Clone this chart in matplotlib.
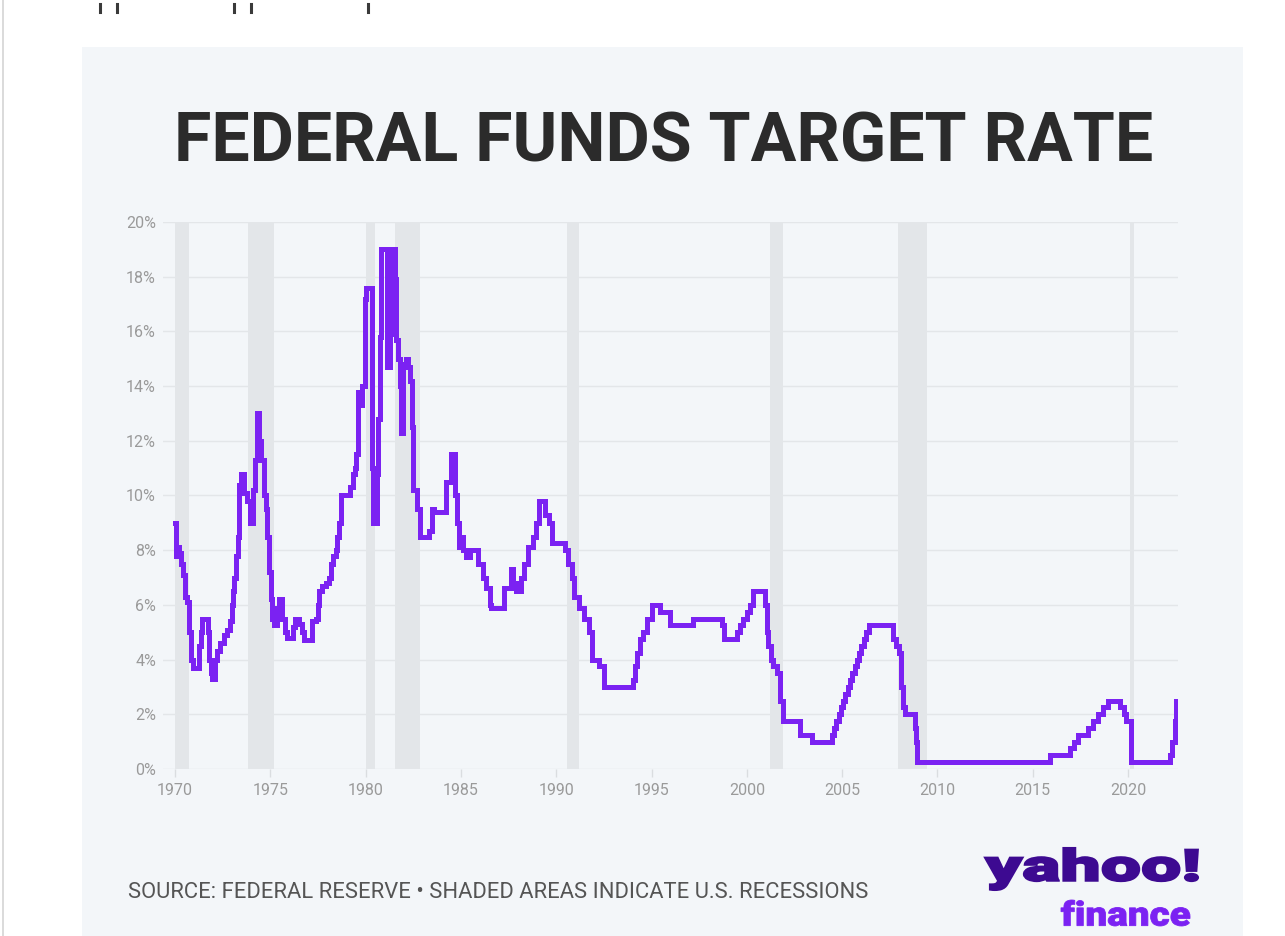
import matplotlib
matplotlib.use("Agg")
from matplotlib import pyplot as plt
from matplotlib.patches import Rectangle, PathPatch
from matplotlib.textpath import TextPath
from matplotlib.font_manager import FontProperties
from matplotlib.transforms import Affine2D
from matplotlib.lines import Line2D

# Fed funds target rate as (year, rate) change points
years = [1970.00, 1970.04, 1970.09, 1970.20, 1970.30, 1970.40, 1970.50, 1970.62, 1970.76, 1970.86,
         1970.94, 1971.26, 1971.35, 1971.42, 1971.71, 1971.80, 1971.90, 1971.95, 1972.10, 1972.20,
         1972.38, 1972.55, 1972.72, 1972.88, 1972.98, 1973.05, 1973.12, 1973.22, 1973.28, 1973.34,
         1973.45, 1973.62, 1973.80, 1973.93, 1974.08, 1974.18, 1974.28, 1974.32, 1974.42, 1974.52,
         1974.65, 1974.78, 1974.85, 1974.93, 1975.02, 1975.10, 1975.20, 1975.36, 1975.45, 1975.62,
         1975.78, 1975.90, 1976.18, 1976.28, 1976.50, 1976.66, 1976.78, 1977.18, 1977.42, 1977.50,
         1977.58, 1977.72, 1977.92, 1978.08, 1978.18, 1978.28, 1978.42, 1978.52, 1978.60, 1978.70,
         1979.20, 1979.32, 1979.42, 1979.50, 1979.60, 1979.72, 1979.82, 1979.95, 1980.04, 1980.32,
         1980.38, 1980.58, 1980.66, 1980.74, 1980.80, 1981.10, 1981.28, 1981.34, 1981.54, 1981.62,
         1981.70, 1981.80, 1981.86, 1981.98, 1982.14, 1982.24, 1982.32, 1982.42, 1982.50, 1982.70,
         1982.86, 1983.30, 1983.50, 1983.60, 1984.20, 1984.50, 1984.70, 1984.82, 1984.92, 1985.00,
         1985.10, 1985.25, 1985.45, 1985.92, 1986.15, 1986.32, 1986.50, 1986.60, 1987.28, 1987.62,
         1987.75, 1987.90, 1988.15, 1988.32, 1988.50, 1988.78, 1988.95, 1989.12, 1989.40, 1989.60,
         1989.80, 1990.45, 1990.62, 1990.82, 1990.95, 1991.20, 1991.45, 1991.72, 1991.90, 1992.25,
         1992.50, 1994.05, 1994.13, 1994.26, 1994.40, 1994.57, 1994.75, 1995.01, 1995.45, 1995.97,
         1997.20, 1998.68, 1998.80, 1999.47, 1999.64, 1999.82, 1999.99, 2000.17, 2000.31, 2000.96,
         2001.04, 2001.13, 2001.25, 2001.39, 2001.57, 2001.74, 2001.88, 2002.79, 2003.40, 2004.45,
         2004.57, 2004.69, 2004.81, 2004.93, 2005.05, 2005.17, 2005.29, 2005.41, 2005.53, 2005.65,
         2005.77, 2005.89, 2006.01, 2006.13, 2006.25, 2006.40, 2007.67, 2007.85, 2007.99, 2008.11,
         2008.20, 2008.29, 2008.81, 2008.90, 2008.95, 2015.89, 2016.94, 2017.15, 2017.38, 2017.90,
         2018.16, 2018.43, 2018.69, 2018.95, 2019.56, 2019.77, 2019.88, 2020.17, 2022.19, 2022.33,
         2022.45, 2022.53, 2022.58]
rates = [9.0, 7.8, 8.1, 7.9, 7.5, 7.1, 6.3, 6.1, 5.0, 4.0,
         3.7, 4.5, 5.0, 5.5, 5.0, 4.0, 3.5, 3.3, 4.0, 4.3,
         4.6, 4.9, 5.1, 5.4, 6.0, 6.5, 7.0, 7.8, 8.5, 10.4,
         10.8, 10.1, 9.8, 9.0, 10.2, 11.3, 12.0, 13.0, 12.0, 11.3,
         10.0, 9.5, 8.5, 7.2, 6.2, 5.5, 5.25, 5.9, 6.2, 5.5,
         5.0, 4.8, 5.2, 5.5, 5.3, 5.0, 4.7, 5.4, 5.5, 6.0,
         6.5, 6.7, 6.8, 7.0, 7.5, 7.8, 8.0, 8.5, 9.0, 10.0,
         10.3, 10.8, 11.0, 11.5, 13.8, 13.3, 14.0, 17.2, 17.6, 11.0,
         9.0, 10.8, 12.8, 15.8, 19.0, 14.7, 15.9, 19.0, 17.9, 15.7,
         15.0, 14.0, 12.3, 14.8, 15.0, 14.7, 14.2, 12.5, 10.2, 9.5,
         8.5, 8.7, 9.5, 9.4, 10.5, 11.5, 10.0, 9.0, 8.1, 8.5,
         8.0, 7.75, 8.0, 7.5, 7.0, 6.6, 6.0, 5.9, 6.6, 7.3,
         6.8, 6.5, 7.0, 7.5, 8.1, 8.5, 9.0, 9.8, 9.3, 9.0,
         8.25, 8.0, 7.5, 7.0, 6.3, 5.9, 5.5, 5.0, 4.0, 3.75,
         3.0, 3.25, 3.75, 4.25, 4.75, 5.0, 5.5, 6.0, 5.75, 5.25,
         5.5, 5.25, 4.75, 5.0, 5.25, 5.5, 5.75, 6.0, 6.5, 6.0,
         5.0, 4.5, 4.0, 3.75, 3.5, 2.5, 1.75, 1.25, 1.0, 1.25,
         1.5, 1.75, 2.0, 2.25, 2.5, 2.75, 3.0, 3.25, 3.5, 3.75,
         4.0, 4.25, 4.5, 4.75, 5.0, 5.25, 4.75, 4.5, 4.25, 3.0,
         2.25, 2.0, 1.5, 1.0, 0.25, 0.5, 0.75, 1.0, 1.25, 1.5,
         1.75, 2.0, 2.25, 2.5, 2.25, 2.0, 1.75, 0.25, 0.5, 1.0,
         1.75, 2.5, 2.5]

# US recessions (start, end)
recession_start = [1970.0, 1973.85, 1980.0, 1981.55, 1990.55, 2001.22, 2007.95, 2020.12]
recession_end = [1970.75, 1975.2, 1980.5, 1982.85, 1991.2, 2001.88, 2009.45, 2020.3]

x_ticks = [1970, 1975, 1980, 1985, 1990, 1995, 2000, 2005, 2010, 2015, 2020]
y_ticks = [0, 2, 4, 6, 8, 10, 12, 14, 16, 18, 20]
y_labels = ["0%", "2%", "4%", "6%", "8%", "10%", "12%", "14%", "16%", "18%", "20%"]

W, H = 1285, 936
fig = plt.figure(figsize=(W / 100, H / 100), dpi=100, facecolor="white")

# background canvas in pixel units
bg = fig.add_axes([0, 0, 1, 1], zorder=0)
bg.set_xlim(0, W)
bg.set_ylim(0, H)
bg.axis("off")
bg.add_patch(Rectangle((82, 0), 1243 - 82, H - 47, facecolor="#f3f6f9", edgecolor="none"))
bg.add_line(Line2D([3, 3], [0, H], color="#d4d4d4", lw=1.2))
# bits of cropped text at the very top
for xp in [100, 117, 234, 251, 368]:
    bg.add_line(Line2D([xp, xp], [H - 4, H - 12], color="#3a3a3a", lw=2.2))


def logo_word(text, x0, y0, x1, y1, color, edge):
    fp = FontProperties(family="Roboto", weight="black")
    tp = TextPath((0, 0), text, size=1, prop=fp)
    ext = tp.get_extents()
    sx = (x1 - x0) / ext.width
    sy = (y1 - y0) / ext.height
    tr = Affine2D().translate(-ext.x0, -ext.y0).scale(sx, sy).translate(x0, H - y1)
    bg.add_patch(PathPatch(tr.transform_path(tp), facecolor=color, edgecolor=color, lw=edge))


logo_word("yahoo!", 985, 848, 1198, 890, "#3d0a91", 1.5)
logo_word("finance", 1061, 900, 1190, 926, "#7b22f2", 0.6)

# main chart
ax = fig.add_axes([163 / W, 1 - 769 / H, (1178 - 163) / W, (769 - 222) / H], zorder=1)
ax.patch.set_alpha(0)
for s, e in zip(recession_start, recession_end):
    ax.axvspan(s, e, color="#e3e6e9", lw=0, zorder=0)

ax.step(years, rates, where="post", color="#7b22f2", lw=3.6, zorder=3, solid_joinstyle="miter")

ax.set_xlim(1969.37, 2022.62)
ax.set_ylim(0, 20)
ax.set_yticks(y_ticks)
ax.set_yticklabels(y_labels)
ax.set_xticks(x_ticks)
ax.set_xticklabels([str(t) for t in x_ticks])
ax.grid(axis="y", color="#e3e6e9", lw=1, zorder=1)
ax.set_axisbelow(True)
for sp in ax.spines.values():
    sp.set_visible(False)
ax.tick_params(axis="y", length=0, pad=5, labelsize=11.5, labelcolor="#9a9a9a")
ax.tick_params(axis="x", length=6, width=1, color="#dadde0", pad=4, labelsize=11.5, labelcolor="#9a9a9a")
for lab in ax.get_xticklabels() + ax.get_yticklabels():
    lab.set_fontfamily("Roboto")
    lab.set_fontweight("normal")

fig.text(664 / W, 1 - 162 / H, "FEDERAL FUNDS TARGET RATE", ha="center", va="baseline",
         fontsize=49, fontweight="bold", family="Roboto", color="#2b2b2b")
fig.text(128 / W, 1 - 898 / H, "SOURCE: FEDERAL RESERVE \u2022 SHADED AREAS INDICATE U.S. RECESSIONS",
         ha="left", va="baseline", fontsize=15.8, fontweight="normal", family="Roboto", color="#555555")

fig.savefig("out.png", dpi=100, facecolor="white")
